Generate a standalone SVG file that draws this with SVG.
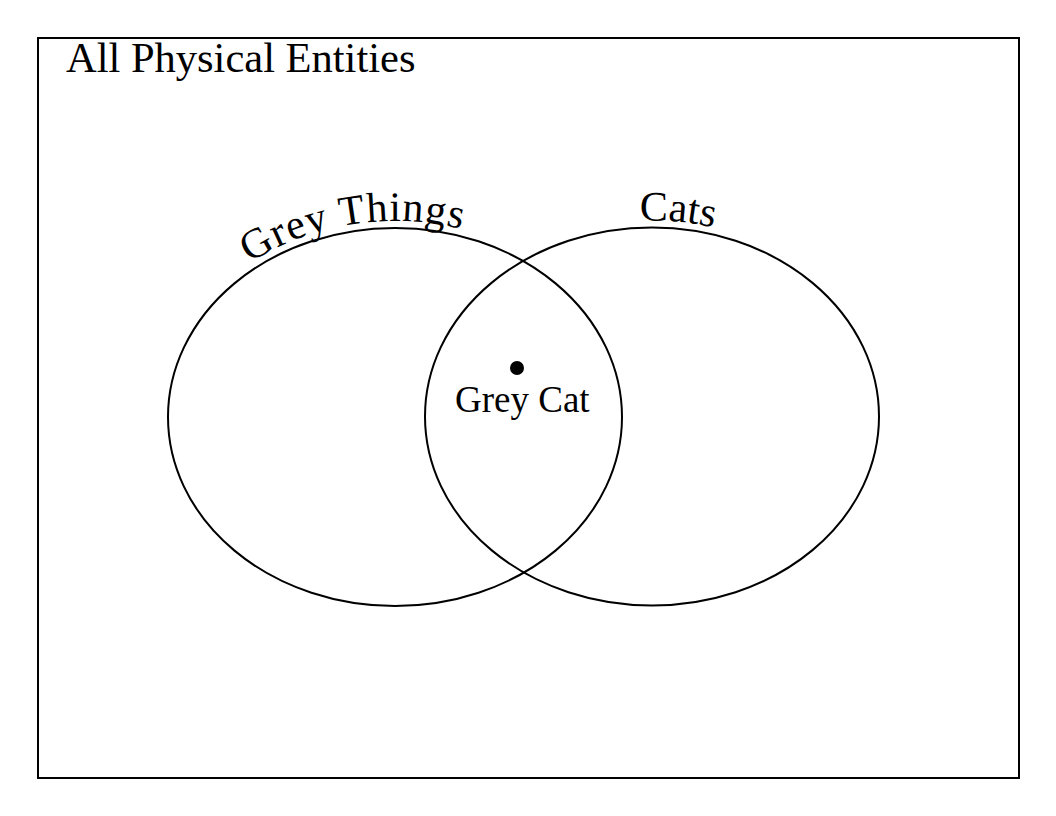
<svg xmlns="http://www.w3.org/2000/svg" xmlns:xlink="http://www.w3.org/1999/xlink" width="1056" height="816" viewBox="0 0 1056 816">
  <style>
    .shape { fill: none; stroke: #000; stroke-width: 2; }
    .label { font-family: "Liberation Serif", "Times New Roman", serif; fill: #000; }
  </style>
  <defs>
    <path id="arcGrey" d="M 161,417 A 234 196 0 0 1 629,417"/>
    <path id="arcCats" d="M 418,416.5 A 234 196 0 0 1 886,416.5"/>
  </defs>
  <rect width="1056" height="816" fill="#fff"/>
  <g id="universe">
    <rect class="shape" x="38" y="38" width="981" height="740"/>
    <text class="label" x="66" y="72" font-size="42.5">All Physical Entities</text>
  </g>
  <g id="grey-things">
    <ellipse class="shape" cx="395" cy="417" rx="227" ry="189"/>
    <text class="label" font-size="42" letter-spacing="1"><textPath xlink:href="#arcGrey" startOffset="185">Grey Things</textPath></text>
  </g>
  <g id="cats">
    <ellipse class="shape" cx="652" cy="416.5" rx="227" ry="189"/>
    <text class="label" font-size="42"><textPath xlink:href="#arcCats" startOffset="326">Cats</textPath></text>
  </g>
  <g id="grey-cat">
    <circle cx="517" cy="368" r="7" fill="#000"/>
    <text class="label" x="455" y="412" font-size="37">Grey Cat</text>
  </g>
  <g id="connectors"></g>
</svg>
